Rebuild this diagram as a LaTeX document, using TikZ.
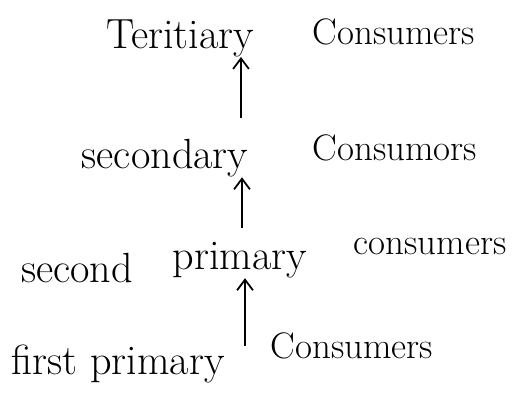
\documentclass[tikz,border=0pt]{standalone}
\usetikzlibrary{arrows.meta}

\tikzset{
  word/.style={inner sep=0pt, font=\fontsize{24}{28}\selectfont},
  cons/.style={word, font=\fontsize{21}{24}\selectfont},
  up/.style={-{Straight Barb[length=6pt,width=9pt]}, line width=1pt}
}

\begin{document}
\begin{tikzpicture}[x=0.02cm, y=-0.02cm]
    \useasboundingbox (0,0) rectangle (519,404);

    % top level
    \node[word] (ter) at (180,38) {Teritiary};
    \node[cons] (terc) at (394,32) {Consumers};

    % second level
    \node[word] (sec) at (165,158) {secondary};
    \node[cons] (secc) at (395,148) {Consumors};

    % third level
    \node[word] (snd) at (77,268) {second};
    \node[word] (spr) at (240,260) {primary};
    \node[cons] (sprc) at (430,246) {consumers};

    % bottom level
    \node[word] (fpr) at (118,364) {first primary};
    \node[cons] (fprc) at (352,346) {Consumers};

    % arrows going up between the levels
    \coordinate (a1) at (241,118);
    \coordinate (a2) at (242,228);
    \coordinate (a3) at (245,346);
    \draw[up] (a1) -- (a1 |- ter.south);
    \draw[up] (a2) -- (a2 |- sec.south);
    \draw[up] (a3) -- (a3 |- spr.south);
\end{tikzpicture}
\end{document}
